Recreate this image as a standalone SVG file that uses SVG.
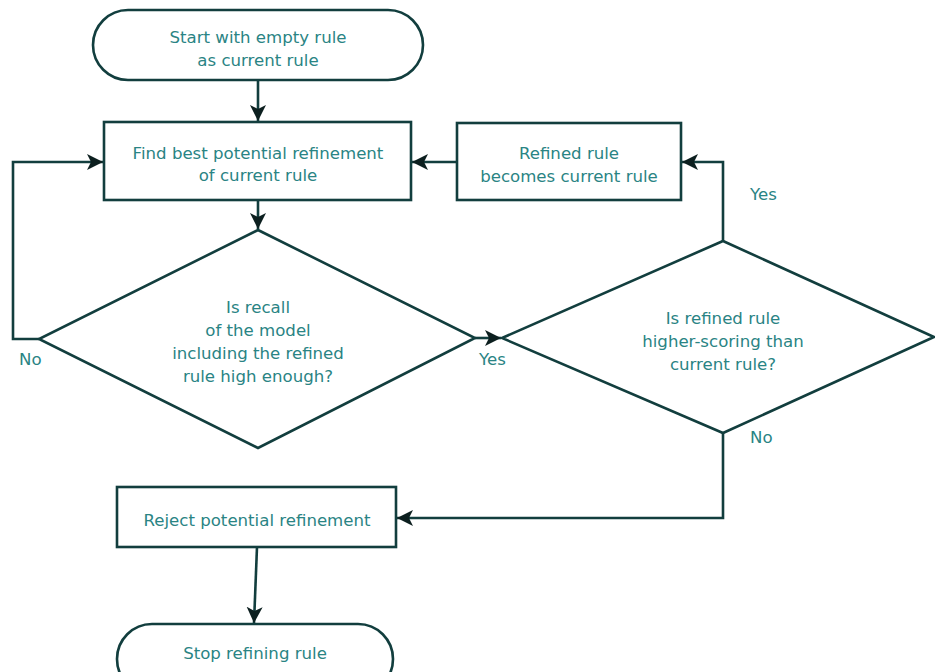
<svg xmlns="http://www.w3.org/2000/svg" width="935" height="672" viewBox="0 0 935 672">
  <style>
    .shape { fill: #ffffff; stroke: #123e3e; stroke-width: 2.6; }
    .wire { fill: none; stroke: #123e3e; stroke-width: 2.6; stroke-linejoin: miter; }
    .label { font-family: "DejaVu Sans", Verdana, sans-serif; font-size: 16.6px; fill: #2a8484; text-anchor: middle; }
    .tag { font-family: "DejaVu Sans", Verdana, sans-serif; font-size: 16.6px; fill: #2a8484; }
  </style>
  <defs>
    <marker id="arrow" markerUnits="userSpaceOnUse" markerWidth="18" markerHeight="18" refX="16" refY="8" orient="auto">
      <path d="M0,0 L16,8 L0,16 L4,8 Z" fill="#0c1f1f"/>
    </marker>
  </defs>

  <rect width="935" height="672" fill="#ffffff"/>

  <g id="connectors">
    <path class="wire" d="M258,80 L258,121" marker-end="url(#arrow)"/>
    <path class="wire" d="M258,200 L258,229" marker-end="url(#arrow)"/>
    <path class="wire" d="M39,339 L13,339 L13,162 L103,162" marker-end="url(#arrow)"/>
    <path class="wire" d="M475,338 L501,338" marker-end="url(#arrow)"/>
    <path class="wire" d="M723,241 L723,162 L682,162" marker-end="url(#arrow)"/>
    <path class="wire" d="M457,162 L412,162" marker-end="url(#arrow)"/>
    <path class="wire" d="M723,433 L723,518 L397,518" marker-end="url(#arrow)"/>
    <path class="wire" d="M257,547 L254,623" marker-end="url(#arrow)"/>
  </g>

  <g id="start">
    <rect class="shape" x="93" y="10" width="330" height="70" rx="35" ry="35"/>
    <text class="label" x="258" y="43">Start with empty rule</text>
    <text class="label" x="258" y="66">as current rule</text>
  </g>

  <g id="find-refinement">
    <rect class="shape" x="104" y="122" width="307" height="78"/>
    <text class="label" x="258" y="159">Find best potential refinement</text>
    <text class="label" x="258" y="181">of current rule</text>
  </g>

  <g id="refined-becomes-current">
    <rect class="shape" x="457" y="123" width="224" height="77"/>
    <text class="label" x="569" y="159">Refined rule</text>
    <text class="label" x="569" y="182">becomes current rule</text>
  </g>

  <g id="recall-check">
    <polygon class="shape" points="258,230 475,338 258,448 39,339"/>
    <text class="label" x="258" y="313">Is recall</text>
    <text class="label" x="258" y="336">of the model</text>
    <text class="label" x="258" y="359">including the refined</text>
    <text class="label" x="258" y="382">rule high enough?</text>
  </g>

  <g id="score-check">
    <polygon class="shape" points="723,241 934,337 723,433 502,338"/>
    <text class="label" x="723" y="324">Is refined rule</text>
    <text class="label" x="723" y="347">higher-scoring than</text>
    <text class="label" x="723" y="370">current rule?</text>
  </g>

  <g id="reject-refinement">
    <rect class="shape" x="117" y="487" width="279" height="60"/>
    <text class="label" x="257" y="526">Reject potential refinement</text>
  </g>

  <g id="stop">
    <rect class="shape" x="117" y="624" width="276" height="70" rx="35" ry="35"/>
    <text class="label" x="255" y="659">Stop refining rule</text>
  </g>

  <g id="branch-labels">
    <text class="tag" x="19" y="365">No</text>
    <text class="tag" x="479" y="365">Yes</text>
    <text class="tag" x="750" y="200">Yes</text>
    <text class="tag" x="750" y="443">No</text>
  </g>
</svg>
